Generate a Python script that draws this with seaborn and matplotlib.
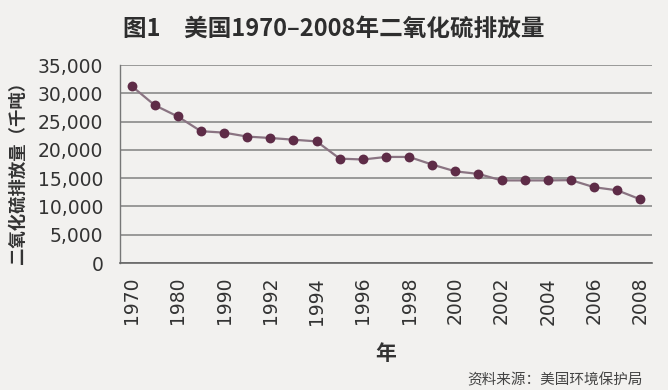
import matplotlib
matplotlib.use("Agg")
import matplotlib.pyplot as plt
import seaborn as sns
import pandas as pd
import numpy as np

years = ["1970", "1975", "1980", "1985", "1990", "1991", "1992", "1993", "1994",
         "1995", "1996", "1997", "1998", "1999", "2000", "2001", "2002", "2003",
         "2004", "2005", "2006", "2007", "2008"]
emissions = [31300, 27900, 25900, 23300, 23050, 22350, 22100, 21800, 21500,
             18450, 18300, 18750, 18750, 17400, 16200, 15750, 14600, 14600,
             14600, 14650, 13400, 12850, 11250]
shown_labels = ["1970", "1980", "1990", "1992", "1994", "1996", "1998", "2000",
                "2002", "2004", "2006", "2008"]
yticks = [0, 5000, 10000, 15000, 20000, 25000, 30000, 35000]

sns.set_style("white")
plt.rcParams['font.family'] = ['Noto Sans CJK SC', 'DejaVu Sans']

bg = "#f2f1ef"
fig = plt.figure(figsize=(6.68, 3.9), dpi=100, facecolor=bg)
ax = fig.add_axes([0.1796, 0.3256, 0.976 - 0.1796, 0.8333 - 0.3256])
ax.set_facecolor(bg)

df = pd.DataFrame({"year": years, "value": emissions})
df["pos"] = np.arange(len(df))
sns.lineplot(data=df, x="pos", y="value", ax=ax, color="#8a7482", linewidth=1.6,
             zorder=3)
sns.scatterplot(data=df, x="pos", y="value", ax=ax, color="#5e2c47", s=50,
                marker="o", edgecolor="#5e2c47", linewidth=0, zorder=4)

ax.set_xlim(-0.5, len(years) - 0.5)
ax.set_ylim(0, 35000)
ax.set_yticks(yticks)
ax.set_yticklabels([f"{v:,}" for v in yticks], fontsize=13.5, color="#333333",
                   family="DejaVu Sans")
ax.yaxis.grid(True, color="#8a8a8a", linewidth=1.2)
ax.set_axisbelow(True)

label_pos = [years.index(y) for y in shown_labels]
ax.set_xticks(label_pos)
ax.set_xticklabels(shown_labels, rotation=90, fontsize=13.5, color="#333333",
                   family="DejaVu Sans")
ax.set_xticks(np.arange(len(years) + 1) - 0.5, minor=True)
ax.tick_params(axis="x", which="major", length=0, pad=10)
ax.tick_params(axis="x", which="minor", length=5, width=1, color="#666666",
               direction="out")
ax.tick_params(axis="y", length=0, pad=12)

for s in ["top", "right"]:
    ax.spines[s].set_visible(False)
ax.spines["left"].set_color("#777777")
ax.spines["bottom"].set_color("#666666")
ax.spines["left"].set_linewidth(1.0)
ax.spines["bottom"].set_linewidth(1.2)

ax.set_xlabel("年", fontsize=15, fontweight="bold", color="#333333")
ax.xaxis.set_label_coords(0.5, -(353 - 263) / 198, transform=ax.transAxes)
ax.xaxis.label.set_va("center")
ax.set_ylabel("二氧化硫排放量（千吨）", fontsize=12.5, fontweight="bold",
              color="#333333")
ax.yaxis.set_label_coords(-(120 - 18) / 532, 0.48)
ax.yaxis.label.set_va("center")

fig.text(0.5, 0.927, "图1　美国1970–2008年二氧化硫排放量", ha="center", va="center",
         fontsize=17, fontweight="bold", color="#2e2e2e")
fig.text(0.9626, 0.026, "资料来源：美国环境保护局", ha="right", va="center",
         fontsize=10.5, color="#444444")

fig.savefig("out.png", dpi=100, facecolor=bg)
